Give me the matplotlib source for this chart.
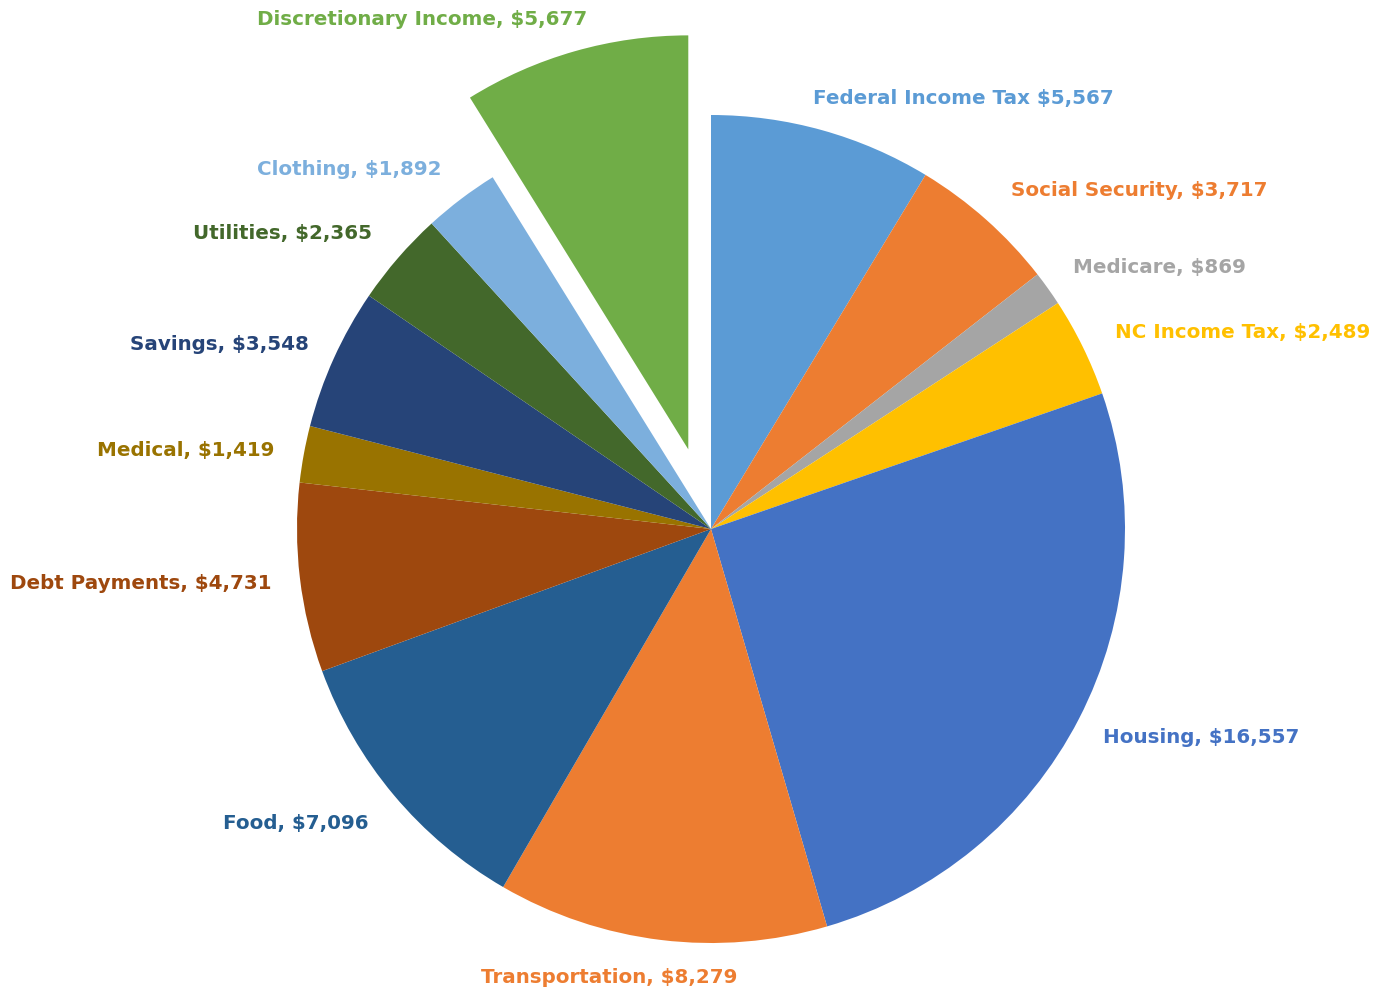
import numpy as np
import matplotlib.pyplot as plt

# budget categories, clockwise from 12 o'clock
categories = ["Federal Income Tax", "Social Security", "Medicare", "NC Income Tax",
              "Housing", "Transportation", "Food", "Debt Payments", "Medical",
              "Savings", "Utilities", "Clothing", "Discretionary Income"]
amounts = [5567, 3717, 869, 2489, 16557, 8279, 7096, 4731, 1419, 3548, 2365, 1892, 5677]
label_texts = ["Federal Income Tax $5,567", "Social Security, $3,717", "Medicare, $869",
               "NC Income Tax, $2,489", "Housing, $16,557", "Transportation, $8,279",
               "Food, $7,096", "Debt Payments, $4,731", "Medical, $1,419",
               "Savings, $3,548", "Utilities, $2,365", "Clothing, $1,892",
               "Discretionary Income, $5,677"]
colors = ["#5B9BD5", "#ED7D31", "#A5A5A5", "#FFC000", "#4472C4", "#ED7D31",
          "#255E91", "#9E480E", "#997300", "#264478", "#43682B", "#7CAFDD", "#70AD47"]
explode = [0] * 12 + [0.2]

# label positions (in pie radius units)
label_pos = [(0.609, 1.043), (1.034, 0.819), (1.082, 0.633), (1.283, 0.476),
             (1.184, -0.502), (-0.246, -1.080), (-1.002, -0.708), (-1.377, -0.130),
             (-1.268, 0.193), (-1.188, 0.447), (-1.034, 0.717), (-0.874, 0.870),
             (-0.698, 1.234)]

fig = plt.figure(figsize=(13.81, 9.95), dpi=100)
ax = fig.add_axes([0, 0, 1, 1])

ax.pie(amounts, colors=colors, explode=explode, startangle=90, counterclock=False,
       radius=1, center=(0, 0), wedgeprops=dict(linewidth=0))

for txt, (x, y), c in zip(label_texts, label_pos, colors):
    ax.text(x, y, txt, color=c, fontsize=14.3, fontweight="bold",
            ha="center", va="center", family="DejaVu Sans")

# map data units so that center sits at (711, 530) px and radius is 414 px
ax.set_xlim(-711 / 414, (1381 - 711) / 414)
ax.set_ylim(-(995 - 530) / 414, 530 / 414)
ax.set_aspect("auto")
ax.axis("off")

fig.savefig("out.png", dpi=100)
